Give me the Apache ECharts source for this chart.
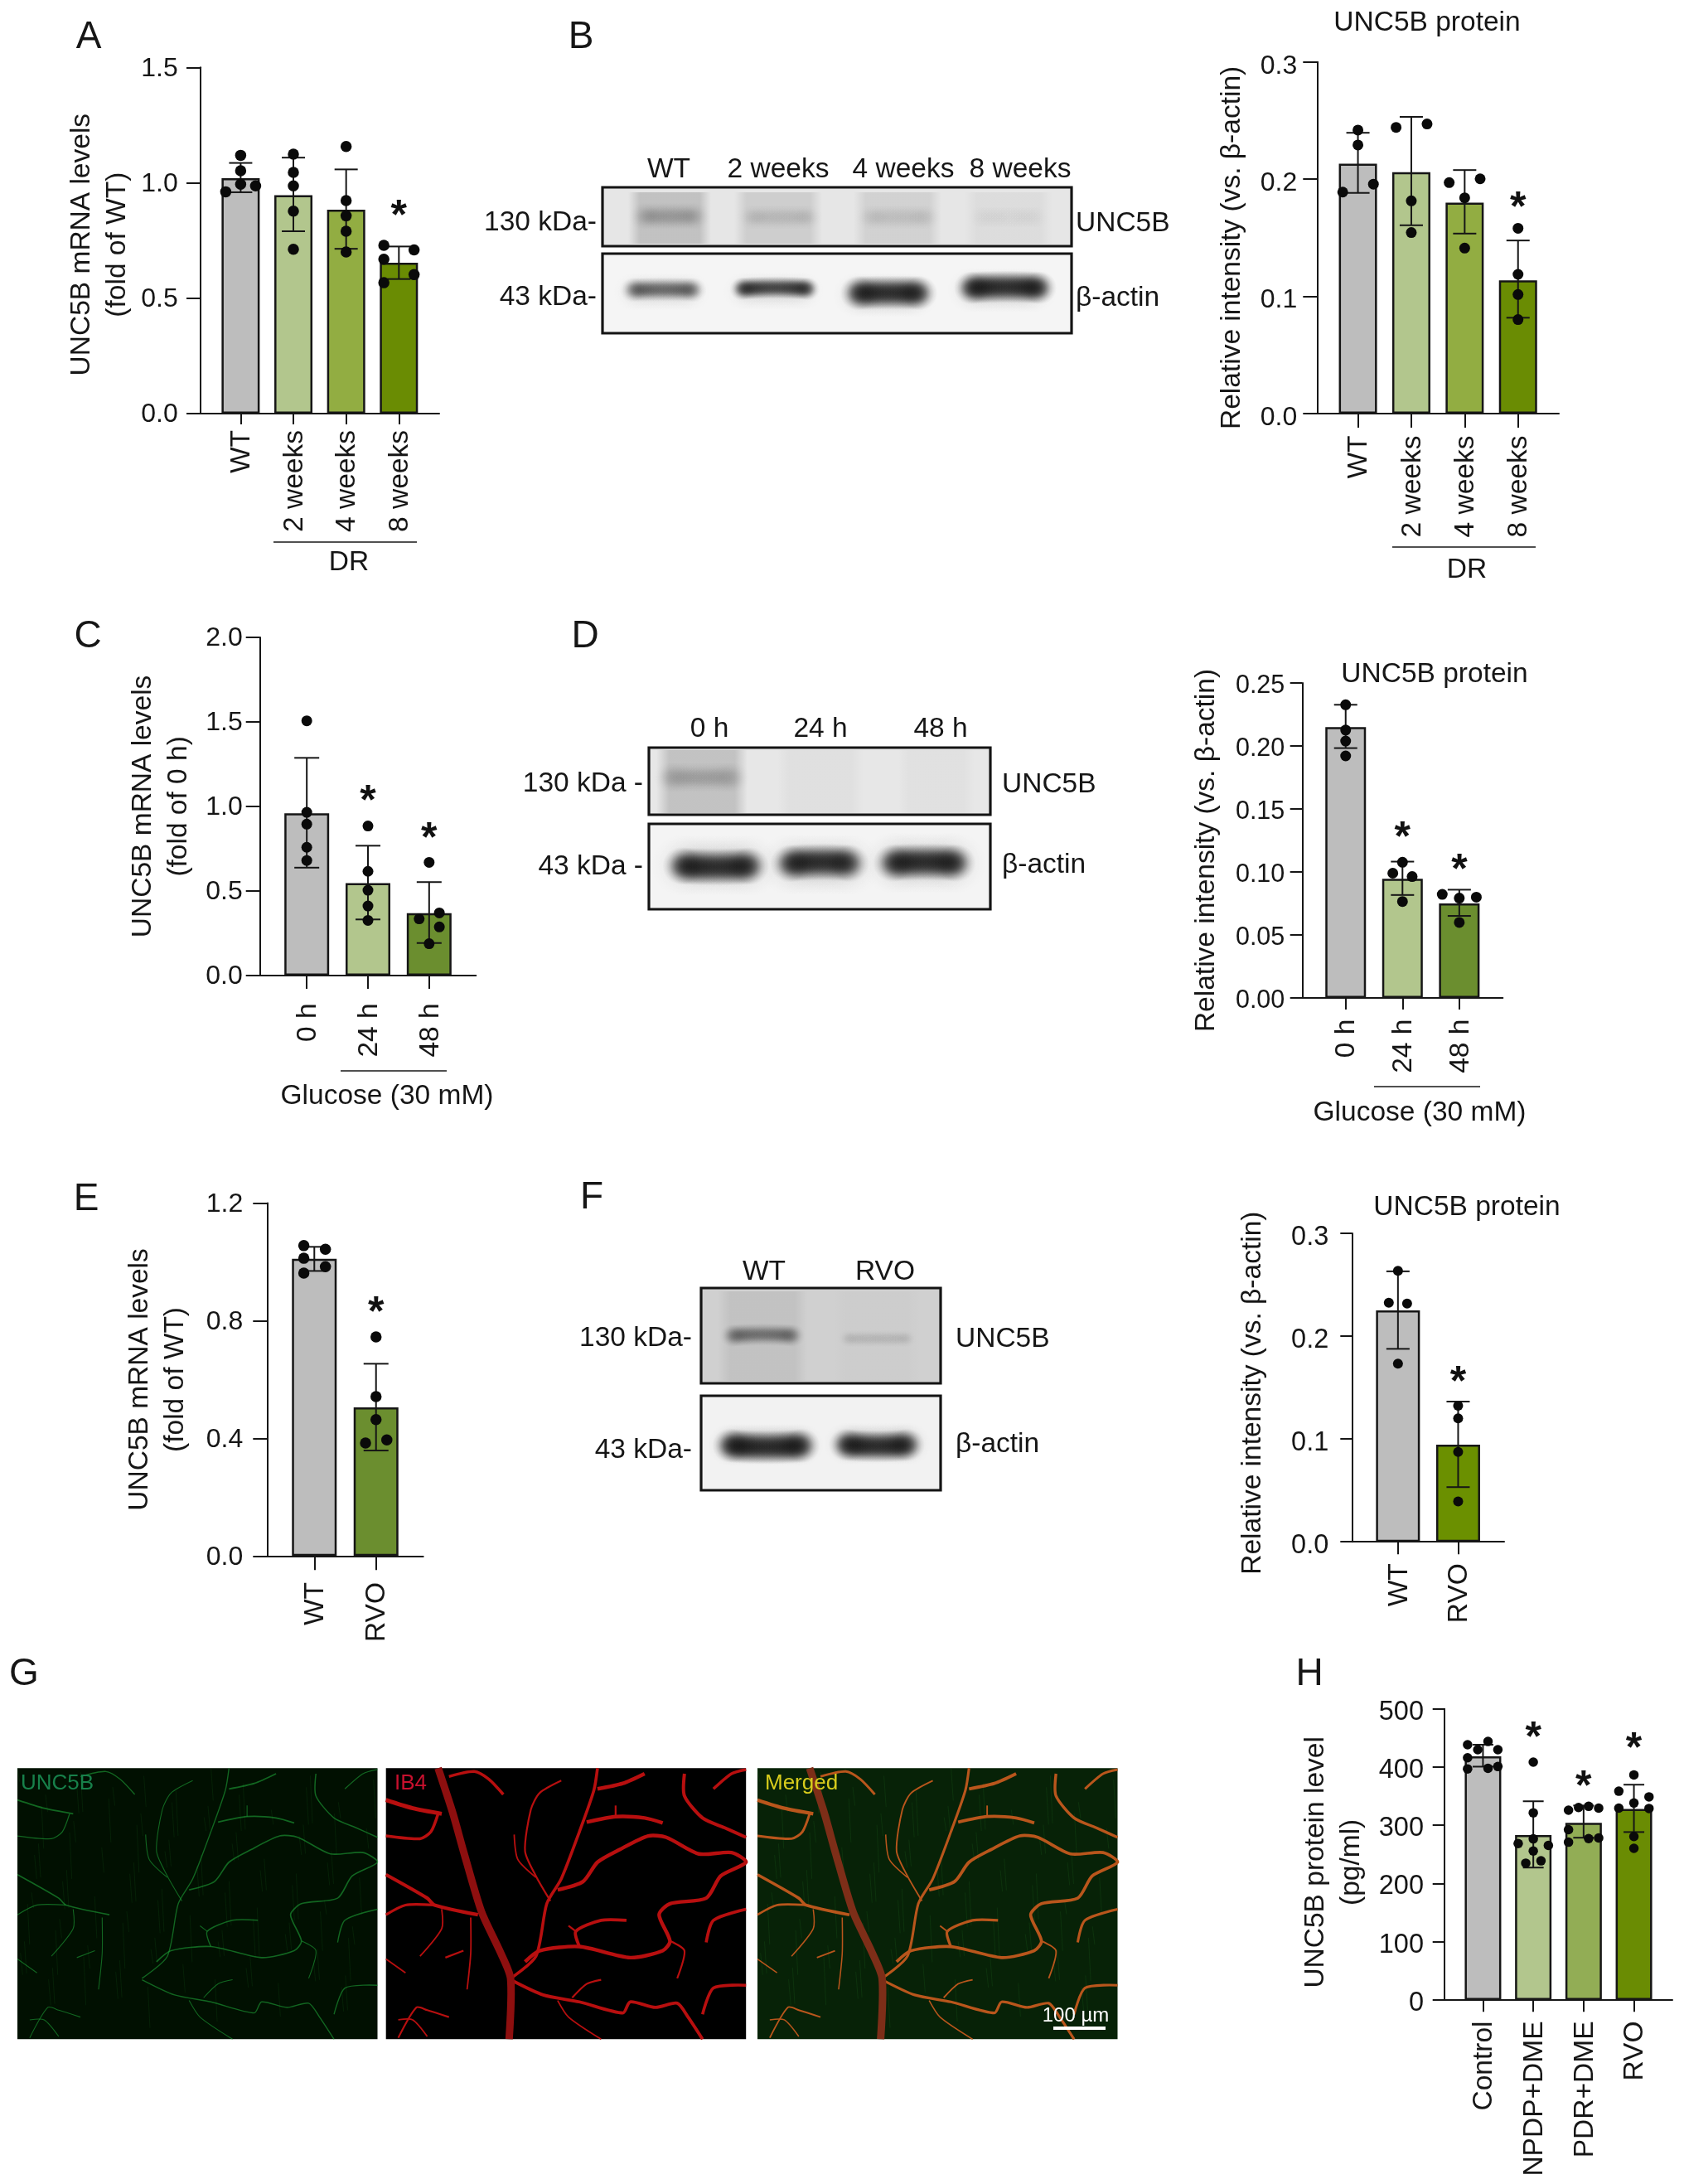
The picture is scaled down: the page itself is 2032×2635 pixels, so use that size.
<!DOCTYPE html>
<html>
<head>
<meta charset="utf-8">
<style>html,body{margin:0;padding:0;background:#fff}#c{width:2032px;height:2635px}</style>
<script src="https://cdn.jsdelivr.net/npm/echarts@6/dist/echarts.min.js"></script>
</head>
<body>
<div id="c"></div>
<script>
// ---------- DATA ----------
const weekCats = ['WT', '2 weeks', '4 weeks', '8 weeks'];
const hourCats = ['0 h', '24 h', '48 h'];
const rvoCats = ['WT', 'RVO'];
const humanCats = ['Control', 'NPDP+DME', 'PDR+DME', 'RVO'];

const aMeans = [1.02, 0.946, 0.883, 0.654];
const aUpper = [1.086, 1.109, 1.058, 0.724];
const aLower = [0.959, 0.79, 0.714, 0.583];
const aPoints = [[0,1.119],[0,1.052],[0,0.994],[0.283,0.987],[-0.283,0.961],
  [1,1.124],[1,1.045],[1,0.987],[1,0.877],[1,0.712],
  [2,1.157],[2,0.923],[2,0.857],[2,0.79],[2,0.70],
  [2.715,0.729],[3.288,0.709],[2.715,0.669],[3.288,0.602],[2.715,0.567]];
const aStars = [[3,0.885]];

const bMeans = [0.2133, 0.206, 0.18, 0.1136];
const bUpper = [0.2396, 0.2532, 0.2078, 0.1477];
const bLower = [0.1883, 0.1607, 0.1536, 0.0818];
const bPoints = [[0,0.2419],[0,0.2292],[0.29,0.1958],[-0.285,0.189],
  [0.715,0.2442],[1.295,0.2471],[1,0.1815],[1,0.1545],
  [1.71,0.1971],[2.29,0.2003],[2,0.1841],[2,0.1412],
  [3,0.1581],[3,0.1188],[3,0.1016],[3,0.0802]];
const bStars = [[3,0.1818]];

const cMeans = [0.959, 0.5465, 0.368];
const cUpper = [1.287, 0.7674, 0.5523];
const cLower = [0.6376, 0.3314, 0.1919];
const cPoints = [[0,1.506],[0,0.965],[0,0.895],[0,0.758],[0,0.68],
  [1,0.884],[1,0.616],[1,0.504],[1,0.411],[1,0.326],
  [2,0.669],[2.167,0.37],[1.837,0.335],[2.167,0.287],[2,0.188]];
const cStars = [[1,1.07],[2,0.853]];

const dMeans = [0.2149, 0.0946, 0.075];
const dUpper = [0.2327, 0.1082, 0.0859];
const dLower = [0.1983, 0.0817, 0.0651];
const dPoints = [[0,0.2327],[0,0.2126],[0,0.2039],[0,0.1921],
  [1,0.1077],[0.83,0.099],[1.17,0.0963],[1,0.0765],
  [1.7,0.0822],[2,0.0792],[2.3,0.08],[2,0.0599]];
const dStars = [[1,0.1329],[2,0.1074]];

const eMeans = [1.0105, 0.5052];
const eUpper = [1.0514, 0.6538];
const eLower = [0.9694, 0.3587];
const ePoints = [[-0.17,1.0555],[0.18,1.043],[-0.17,1.0125],[0.18,0.984],[-0.17,0.962],
  [1,0.745],[1,0.542],[1,0.464],[1.175,0.3945],[0.83,0.384]];
const eStars = [[1,0.8506]];

const fMeans = [0.2251, 0.0944];
const fUpper = [0.2631, 0.1364];
const fLower = [0.1877, 0.0532];
const fPoints = [[0,0.2636],[-0.152,0.2326],[0.152,0.2318],[0,0.1733],
  [1,0.1324],[1,0.12],[1,0.0874],[1,0.0393]];
const fStars = [[1,0.1623]];

const hMeans = [418.6, 283.3, 304.2, 328.1];
const hUpper = [438.5, 341.3, 334, 369.8];
const hLower = [400.8, 227.4, 278.7, 288.4];
const hPoints = [[-0.306,438.5],[0.1,444],[-0.104,430],[0.296,430],[-0.306,416],[-0.306,397],[0.1,398],[0.296,401],
  [1,408.5],[1,321.5],[1,276.7],[0.7,268.6],[1.3,265.5],[1,255.9],[1.153,239],[0.85,235],
  [1.7,326],[1.9,330.6],[2.1,332.6],[2.3,329.6],[1.7,292.5],[2.1,277.2],[2.3,278.2],[1.7,271],
  [3,386.6],[2.7,358.6],[3.3,348.9],[3,338.3],[2.7,329.6],[3.3,329],[3,280.8],[3,260.4]];
const hStars = [[1,462.9],[2,379],[3,443.5]];

const GREY='#bdbdbd', G1='#b2c68d', G2='#92ad42', G3='#6a8c03', G4='#6b8e2f';

// ---------- LAYOUT ----------
const FONT='"Liberation Sans", Arial, sans-serif';
const panels=[
 {cats:weekCats,m:aMeans,u:aUpper,l:aLower,p:aPoints,s:aStars,col:[GREY,G1,G2,G3],L:241.7,R:530,T:81.3,B:499,max:1.5,iv:0.5,dec:1,
  name:'UNC5B mRNA levels\n(fold of WT)',gap:78,nd:5,bw:46,sz:13.5,cap:14,yt:16.7,xt:13,ym:27,xm:20,ld:1.5,fs:32},
 {cats:weekCats,m:bMeans,u:bUpper,l:bLower,p:bPoints,s:bStars,col:[GREY,G1,G2,G3],L:1589.3,R:1881,T:74.8,B:499,max:0.3,iv:0.1,dec:1,
  name:'Relative intensity (vs. β-actin)',gap:81,nd:12,bw:46,sz:13,cap:14,yt:17,xt:17,ym:24,xm:26.5,ld:5,fs:32},
 {cats:hourCats,m:cMeans,u:cUpper,l:cLower,p:cPoints,s:cStars,col:[GREY,G1,G4],L:313.7,R:574.3,T:768.9,B:1176.9,max:2,iv:0.5,dec:1,
  name:'UNC5B mRNA levels\n(fold of 0 h)',gap:76,nd:0,bw:54,sz:13,cap:15,yt:17,xt:16,ym:21,xm:33.5,ld:1.5,fs:32},
 {cats:hourCats,m:dMeans,u:dUpper,l:dLower,p:dPoints,s:dStars,col:[GREY,G1,G4],L:1571.3,R:1813.3,T:824,B:1204,max:0.25,iv:0.05,dec:2,
  name:'Relative intensity (vs. β-actin)',gap:94,nd:12,bw:49,sz:13,cap:14,yt:14.6,xt:14,ym:21,xm:25.6,ld:4,fs:30.5},
 {cats:rvoCats,m:eMeans,u:eUpper,l:eLower,p:ePoints,s:eStars,col:[GREY,G4],L:322.3,R:510.7,T:1451.6,B:1877.3,max:1.2,iv:0.4,dec:1,
  name:'UNC5B mRNA levels\n(fold of WT)',gap:89,nd:0,bw:54,sz:13.5,cap:15,yt:17,xt:17,ym:29,xm:31.7,ld:1.5,fs:32},
 {cats:rvoCats,m:fMeans,u:fUpper,l:fLower,p:fPoints,s:fStars,col:[GREY,'#6b9000'],L:1631.3,R:1815,T:1488.1,B:1860.2,max:0.3,iv:0.1,dec:1,
  name:'Relative intensity (vs. β-actin)',gap:98,nd:6.5,bw:53,sz:12,cap:14,yt:14,xt:15,ym:28,xm:26,ld:4.5,fs:32.5},
 {cats:humanCats,m:hMeans,u:hUpper,l:hLower,p:hPoints,s:hStars,col:[GREY,G1,'#92ad55',G3],L:1743,R:2018,T:2061.8,B:2412.9,max:500,iv:100,dec:0,
  name:'UNC5B protein level\n(pg/ml)',gap:91,nd:9.5,bw:44,sz:11.5,cap:12.5,yt:14.3,xt:14.3,ym:25,xm:25.6,ld:4,fs:32.5}
];

const grid=[],xAxis=[],yAxis=[],series=[];
const INK='#161616';
panels.forEach((P,i)=>{
  const n=P.cats.length, ticks=P.cats.map((_,k)=>k);
  grid.push({left:P.L,top:P.T,width:P.R-P.L,height:P.B-P.T,containLabel:false});
  xAxis.push({gridIndex:i,type:'value',min:-0.765,max:n-1+0.765,splitLine:{show:false},
    axisLine:{show:true,onZero:false,lineStyle:{color:INK,width:2}},
    axisTick:{show:true,customValues:ticks,length:P.xt,lineStyle:{color:INK,width:2}},
    axisLabel:{show:true,customValues:ticks,rotate:90,margin:P.xm,fontSize:33.5,color:INK,fontFamily:FONT,
      verticalAlign:'top',lineHeight:3,
      formatter:v=>P.cats[Math.round(v)]}});
  yAxis.push({gridIndex:i,type:'value',min:0,max:P.max,interval:P.iv,splitLine:{show:false},
    axisLine:{show:true,onZero:false,lineStyle:{color:INK,width:2}},
    axisTick:{show:true,length:P.yt,lineStyle:{color:INK,width:2}},
    axisLabel:{show:true,margin:P.ym,fontSize:P.fs,color:INK,fontFamily:FONT,verticalAlign:'top',lineHeight:2*P.ld,
      formatter:v=>Number(v).toFixed(P.dec)},
    name:P.name,nameLocation:'middle',nameGap:P.gap,
    nameTextStyle:{fontSize:33.5,color:INK,fontFamily:FONT,lineHeight:43,padding:[0,2*P.nd,0,0]}});
  series.push({type:'bar',xAxisIndex:i,yAxisIndex:i,barWidth:P.bw,silent:true,
    data:P.m.map((v,k)=>({value:[k,v],itemStyle:{color:P.col[k]}})),
    itemStyle:{borderColor:INK,borderWidth:2.5}});
  series.push({type:'custom',xAxisIndex:i,yAxisIndex:i,silent:true,z:3,clip:false,
    encode:{x:0,y:[1,2]},data:P.m.map((_,k)=>[k,P.l[k],P.u[k]]),
    renderItem:(pr,api)=>{
      const x=api.value(0),a=api.coord([x,api.value(1)]),b=api.coord([x,api.value(2)]);
      const st={stroke:INK,lineWidth:2,fill:null};
      return {type:'group',children:[
        {type:'line',shape:{x1:a[0],y1:a[1],x2:b[0],y2:b[1]},style:st},
        {type:'line',shape:{x1:a[0]-P.cap,y1:a[1],x2:a[0]+P.cap,y2:a[1]},style:st},
        {type:'line',shape:{x1:b[0]-P.cap,y1:b[1],x2:b[0]+P.cap,y2:b[1]},style:st}]};
    }});
  series.push({type:'scatter',xAxisIndex:i,yAxisIndex:i,silent:true,z:4,symbol:'circle',symbolSize:P.sz,clip:false,
    data:P.p,itemStyle:{color:'#0a0a0a',opacity:1}});
  series.push({type:'custom',xAxisIndex:i,yAxisIndex:i,silent:true,z:5,clip:false,encode:{x:0,y:1},data:P.s,
    renderItem:(pr,api)=>{
      const c=api.coord([api.value(0),api.value(1)]);
      return {type:'text',x:c[0],y:c[1]+10,style:{text:'*',fontFamily:FONT,fontSize:50,fontWeight:'bold',fill:'#111',align:'center',verticalAlign:'middle'}};
    }});
});

// ---------- NON-AXIS TEXT, BLOTS, IMAGES ----------
const g=[];
function t(x,y,text,size,align,fill){g.push({type:'text',x,y:y+2,silent:true,z:20,
  style:{text,fontFamily:FONT,fontSize:size||33.5,fill:fill||INK,align:align||'center',verticalAlign:'middle'}});}
function line(x1,x2,y){g.push({type:'line',silent:true,z:20,shape:{x1,y1:y,x2,y2:y},style:{stroke:INK,lineWidth:1.6}});}
function rect(x,y,w,h,fill){g.push({type:'rect',silent:true,z:1,shape:{x,y,width:w,height:h},style:{fill}});}
function frame(x,y,w,h){g.push({type:'rect',silent:true,z:6,shape:{x,y,width:w,height:h},style:{fill:null,stroke:'#141414',lineWidth:3.2}});}
// soft vertical lane of a blot
function lane(x,y,w,h,a){rect(x,y,w,h,{type:'linear',x:0,y:0,x2:1,y2:0,colorStops:[
  {offset:0,color:`rgba(110,110,110,0)`},{offset:0.14,color:`rgba(110,110,110,${a})`},
  {offset:0.86,color:`rgba(110,110,110,${a})`},{offset:1,color:`rgba(110,110,110,0)`}]});}
// soft protein band: closely overlapping radial spots, denser towards the ends of the band
function band(x1,x2,y,r,a,bow){
  const step=Math.max(1.5,r*0.2);
  for(let x=x1+r*0.45;x<=x2-r*0.45+0.01;x+=step){
    const u=(x-(x1+x2)/2)/((x2-x1)/2), k=0.72+0.28*u*u, p=1-Math.pow(1-a*k,0.25);
    g.push({type:'circle',silent:true,z:2,shape:{cx:x,cy:y+(bow||0)*(1-u*u),r},
      style:{fill:{type:'radial',x:0.5,y:0.5,r:0.5,colorStops:[
        {offset:0,color:`rgba(5,5,5,${p})`},{offset:0.3,color:`rgba(5,5,5,${p*0.8})`},{offset:0.65,color:`rgba(5,5,5,${p*0.3})`},{offset:1,color:'rgba(5,5,5,0)'}]}}});
  }
}

[['A',107,43],['B',701,43],['C',106,766],['D',706,766],['E',104,1445],['F',714,1443],['G',29,2018],['H',1580,2018]]
 .forEach(a=>t(a[1],a[2],a[0],46));

t(1722,26,'UNC5B protein'); t(1731,812,'UNC5B protein'); t(1770,1455,'UNC5B protein');
line(330,503,654); t(421,677,'DR');
line(1680,1853,660); t(1770,686,'DR');
line(411,539,1292); t(467,1321,'Glucose (30 mM)');
line(1658,1786,1311); t(1713,1341,'Glucose (30 mM)');

// Blot B
rect(727,226,566,71,'#e6e6e6');
lane(758,232,100,62,0.3); lane(886,232,106,62,0.2); lane(1030,232,106,62,0.17); lane(1164,232,106,62,0.08);
band(768,850,261,17,0.25); band(897,985,262,16,0.13); band(1040,1128,262,16,0.11); band(1174,1262,262,15,0.04);
rect(727,306,566,96,'#f5f5f5');
band(752,848,352,24,0.12); band(884,985,351,24,0.12); band(1020,1122,356,28,0.2); band(1158,1267,350,28,0.2);
band(756,846,350,15,0.62,-1); band(888,982,349,14,0.85,-2); band(1025,1120,354,21,0.99,-1); band(1162,1265,348,20,0.99,-2);
frame(727,226,566,71); frame(727,306,566,96);
[['WT',807],['2 weeks',939],['4 weeks',1090],['8 weeks',1231]].forEach(a=>t(a[1],203,a[0]));
t(720,267,'130 kDa-',33.5,'right'); t(720,357,'43 kDa-',33.5,'right');
t(1298,268,'UNC5B',33.5,'left'); t(1298,358,'β-actin',33.5,'left');

// Blot D
rect(783,902,412,81,'#e7e7e7');
lane(792,905,110,76,0.3); lane(938,905,104,76,0.06); lane(1084,905,92,76,0.05);
band(798,898,938,19,0.22);
rect(783,994,412,103,'#f4f4f4');
band(806,925,1044,38,0.2); band(935,1048,1043,38,0.2); band(1060,1172,1041,38,0.22);
band(812,917,1044,23,0.995,2); band(942,1040,1043,23,0.995,-3); band(1066,1165,1042,23,0.995,-2);
frame(783,902,412,81); frame(783,994,412,103);
[['0 h',856],['24 h',990],['48 h',1135]].forEach(a=>t(a[1],878,a[0]));
t(776,944,'130 kDa -',33.5,'right'); t(776,1044,'43 kDa -',33.5,'right');
t(1209,945,'UNC5B',33.5,'left'); t(1209,1042,'β-actin',33.5,'left');

// Blot F
rect(846,1554,289,115,'#d0d0d0');
lane(866,1558,108,108,0.14); lane(1006,1558,104,108,0.03);
band(876,966,1612,14,0.5,-2); band(1016,1102,1615,11,0.12);
rect(846,1684,289,114,'#f2f2f2');
band(868,982,1743,26,0.3); band(1008,1110,1742,26,0.28);
band(871,980,1743,21,0.985,3); band(1011,1107,1742,20,0.98,3);
frame(846,1554,289,115); frame(846,1684,289,114);
t(922,1533,'WT'); t(1068,1533,'RVO');
t(835,1613,'130 kDa-',33.5,'right'); t(835,1748,'43 kDa-',33.5,'right');
t(1153,1614,'UNC5B',33.5,'left'); t(1153,1741,'β-actin',33.5,'left');

// Panel G micrographs: illustrative vessel tracings, coordinates in panel fractions
const PW=434.5,PH=327,PY=2133.3,PX=[21,465.7,914];
const toF=(a)=>{const o=[];for(let i=0;i<a.length;i+=2)o.push([(a[i]-533)/497,(a[i+1]-100)/980]);return o;};
const trunk=toF([605,100,625,260,640,400,665,620,690,760,705,860,703,1080]);
const vessels=[
 [[825,100,820,180,800,330,775,500,755,590,740,780,705,860],3.6],
 [[533,215,570,245,610,265],5],[[605,265,595,330,580,355,533,345],3.5],
 [[620,130,655,112,675,140,695,195],3.5],
 [[775,145,745,190,733,250,725,400,740,490,760,580],2.2],[[710,340,715,430,740,495],1.8],
 [[825,175,860,155,890,120],4.5],[[810,295,850,275,890,280,915,298],4.5],[[850,235,850,275],2.2],
 [[945,120,945,200,970,280,1000,315,1030,350],4],[[985,175,1010,120,1030,105],3.5],
 [[770,540,805,510,825,440,855,395,895,345,920,350,965,410,1010,405,1030,440,995,490,975,570,925,590,910,630,925,725,915,760,870,785,800,745,745,760,725,800],4.4],
 [[800,745,795,690,830,650,865,650],3.8],[[785,670,795,690],2.2],[[925,725,945,760,935,860],2.2],
 [[533,485,590,570,600,595,660,630],4.2],[[533,630,560,595,600,595],3.2],
 [[610,610,610,680,580,780],1.8],[[650,640,650,770,645,900],1.8],[[640,760,615,785],2.2],
 [[1030,610,985,650,975,730],3.6],
 [[705,865,750,920,800,945,860,985,870,945,905,965,935,950,950,1000,970,1080],3.8],
 [[790,930,810,880,830,865],2.2],[[1030,885,985,895,970,990],3.6],[[533,790,560,840],1.8],
 [[550,1075,575,965,590,975,620,1000],2.2],[[550,1010,570,1010,590,1070],1.8],[[770,940,785,1000,830,1080],1.8]
].map(v=>[toF(v[0]),v[1]]);
function poly(k,pts,lw,col){g.push({type:'polyline',silent:true,z:3,
  shape:{points:pts.map(p=>[PX[k]+p[0]*PW,PY+p[1]*PH]),smooth:0.25},
  style:{stroke:col,lineWidth:lw,fill:null,lineJoin:'round'}});}
rect(PX[0],PY,PW,PH,'#011001'); rect(PX[1],PY,PW,PH,'#000000'); rect(PX[2],PY,PW,PH,'#072207');
// faint vertical streak texture of the green channel (fixed, evenly stepped positions)
for(let j=0;j<90;j++){
  const fx=(j*0.7548777)%1, fy=(j*0.5698403)%0.82, len=0.05+((j*0.3819)%1)*0.13;
  const seg=[[fx,fy],[Math.min(1,fx+0.006),fy+len]];
  poly(0,seg,1,'rgba(40,150,50,0.13)');
  poly(2,seg,1,'rgba(60,170,60,0.12)');
}
vessels.forEach(v=>{
  poly(0,v[0],Math.max(1.1,v[1]*0.38),'rgba(30,160,55,0.6)');
  poly(1,v[0],v[1],'#b80f0f');
  poly(2,v[0],Math.max(1.4,v[1]*0.85),'#b9561c');
});
poly(1,trunk,9,'#8e0f0f'); poly(2,trunk,9,'#7d2e18');
t(25,2150,'UNC5B',26,'left','#17804a'); t(476,2150,'IB4',26,'left','#c8102e'); t(923,2150,'Merged',26,'left','#d8cc1c');
t(1298,2430,'100 µm',24,'center','#ffffff');
rect(1271,2445,63,4,'#ffffff'); g[g.length-1].z=20;

const chart=echarts.init(document.getElementById('c'),null,{renderer:'canvas',width:2032,height:2635});
chart.setOption({animation:false,backgroundColor:'#ffffff',tooltip:{show:false},grid,xAxis,yAxis,series,graphic:{elements:g}});
</script>
</body>
</html>
